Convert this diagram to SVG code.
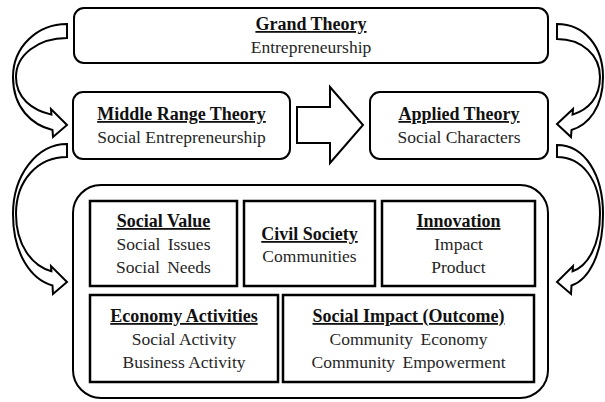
<svg xmlns="http://www.w3.org/2000/svg" width="605" height="402" viewBox="0 0 605 402">
<style>
.box{fill:#fff;stroke:#000;stroke-width:2}
.ibox{fill:#fff;stroke:#000;stroke-width:2.5}
.arr{fill:#fff;stroke:#000;stroke-width:2;stroke-linejoin:miter}
text{font-family:"Liberation Serif","Times New Roman",serif;font-size:17.5px;text-anchor:middle;fill:#262626}
.t{font-weight:bold;font-size:18px;text-decoration:underline;fill:#111}
.ws{word-spacing:3px}
</style>
<rect width="605" height="402" fill="#fff"/>
<g id="connectors">
<path class="arr" d="M67,24 L67,38 C38,38 16,55 16,77 C16,98 32,110 51.4,114.6 L51,109 L67,125 L53,137 L52.5,130 C32,125 13,108 13,77 C13,47 37,24 67,24 Z"/>
<path class="arr" d="M67,144 L67,157 C38,157 16,180 16,214 C16,245 32,266 51.4,271.2 L51,266 L67,282 L53,294 L52.5,285.5 C32,280 13,255 13,214 C13,175 37,144 67,144 Z"/>
<path class="arr" d="M557,24 L557,39 C582,39 600,55 600,77 C600,98 588,110 572.6,114.6 L573,109 L557,124 L571,137 L571.5,130 C588,125 603,108 603,77 C603,47 585,24 557,24 Z"/>
<path class="arr" d="M557,145 L557,157 C582,157 600,180 600,214 C600,245 588,266 572.6,271.2 L573,266 L557,282 L571,294 L571.5,285.5 C588,280 603,255 603,214 C603,175 585,145 557,145 Z"/>
<path class="arr" d="M297,107 L330,107 L330,87 L363,125 L330,163 L330,143 L297,143 Z"/>
</g>
<g id="grand">
<rect class="box" x="74" y="8" width="474" height="55" rx="10"/>
<text class="t" x="311" y="30">Grand Theory</text>
<text x="311" y="53">Entrepreneurship</text>
</g>
<g id="middle">
<rect class="box" x="73" y="92" width="217" height="67" rx="10"/>
<text class="t" x="181.5" y="120">Middle Range Theory</text>
<text x="181.5" y="143">Social Entrepreneurship</text>
</g>
<g id="applied">
<rect class="box" x="370" y="92" width="178" height="67" rx="10"/>
<text class="t" x="459" y="120">Applied Theory</text>
<text x="459" y="143">Social Characters</text>
</g>
<g id="container">
<rect class="box" x="73" y="185" width="475" height="213" rx="28"/>
</g>
<g id="social-value">
<rect class="ibox" x="90" y="201" width="147" height="85"/>
<text class="t" x="163.5" y="227">Social Value</text>
<text class="ws" x="163.5" y="250">Social Issues</text>
<text class="ws" x="163.5" y="272.5">Social Needs</text>
</g>
<g id="civil-society">
<rect class="ibox" x="244" y="201" width="131" height="85"/>
<text class="t" x="309.5" y="240">Civil Society</text>
<text x="309.5" y="262">Communities</text>
</g>
<g id="innovation">
<rect class="ibox" x="382" y="201" width="153" height="85"/>
<text class="t" x="458.5" y="227">Innovation</text>
<text x="458.5" y="250">Impact</text>
<text x="458.5" y="272.5">Product</text>
</g>
<g id="economy">
<rect class="ibox" x="90" y="295" width="188" height="87"/>
<text class="t" x="184" y="322">Economy Activities</text>
<text x="184" y="345">Social Activity</text>
<text x="184" y="367.5">Business Activity</text>
</g>
<g id="social-impact">
<rect class="ibox" x="283" y="295" width="251" height="87"/>
<text class="t" x="408.5" y="322">Social Impact (Outcome)</text>
<text class="ws" x="408.5" y="345">Community Economy</text>
<text class="ws" x="408.5" y="367.5">Community Empowerment</text>
</g>
</svg>
